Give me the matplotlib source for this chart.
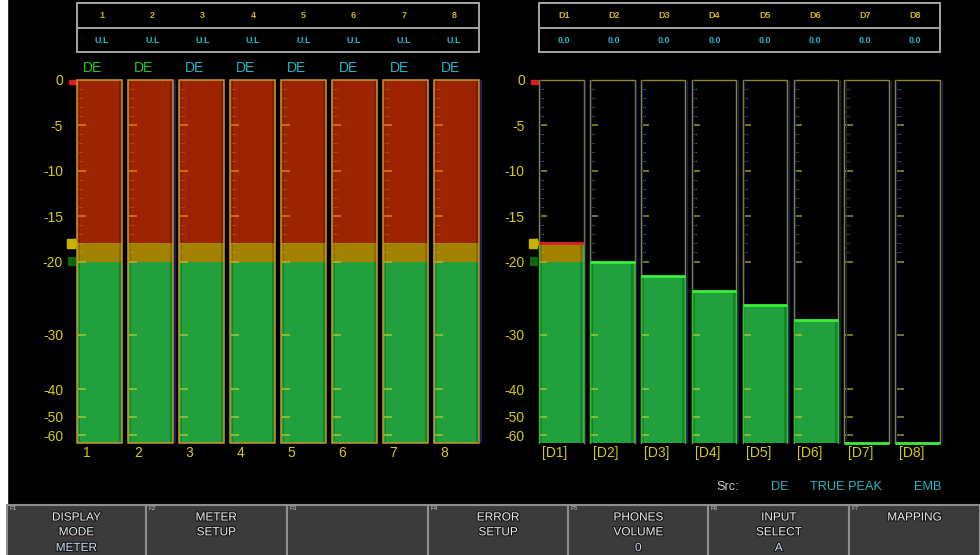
import numpy as np
import matplotlib
matplotlib.use('Agg')
import matplotlib.pyplot as plt
from matplotlib.patches import Rectangle, Polygon
from matplotlib import transforms
import matplotlib.patheffects as pe

plt.rcParams['font.family'] = ['Liberation Sans', 'DejaVu Sans']

# ---------------- data ----------------
ch_labels = ['1', '2', '3', '4', '5', '6', '7', '8']
ch_units = ['U.L', 'U.L', 'U.L', 'U.L', 'U.L', 'U.L', 'U.L', 'U.L']
ch_src = ['DE', 'DE', 'DE', 'DE', 'DE', 'DE', 'DE', 'DE']
ch_src_ok = [True, True, False, False, False, False, False, False]
ch_levels = [0, 0, 0, 0, 0, 0, 0, 0]

d_labels = ['D1', 'D2', 'D3', 'D4', 'D5', 'D6', 'D7', 'D8']
d_values = ['0.0', '0.0', '0.0', '0.0', '0.0', '0.0', '0.0', '0.0']
d_levels = [-18, -20, -22, -24, -26, -28, -70, -70]

scale_ticks = [0, -5, -10, -15, -20, -30, -40, -50, -60]
scale_labels = ['0', '-5', '-10', '-15', '-20', '-30', '-40', '-50', '-60']
minor_ticks = [-1, -2, -3, -4, -6, -7, -8, -9, -11, -12, -13, -14, -16, -17, -18, -19]
over_level = -18      # start of red zone
ref_level = -20       # start of yellow zone
floor_db = -70

src_words = ['Src:', 'DE', 'TRUE PEAK', 'EMB']
fkeys = ['F1', 'F2', 'F3', 'F4', 'F5', 'F6', 'F7']
fkey_text = [['DISPLAY', 'MODE'], ['METER', 'SETUP'], [], ['ERROR', 'SETUP'],
             ['PHONES', 'VOLUME'], ['INPUT', 'SELECT'], ['MAPPING']]
fkey_value = ['METER', '', '', '', '0', 'A', '']

# ---------------- style ----------------
W, H = 980, 555
YEL = '#d4cc12'
CYAN = '#22b8c4'
GREEN_TXT = '#22c822'
RED = '#9c2400'
RED_D = '#7c1c00'
AMB = '#a28200'
AMB_D = '#8a6c00'
GRN = '#22a03e'
GRN_D = '#12862a'
LIME = '#38f038'

# non-linear meter scale (dB -> pixel height)
_db = np.array([-70, -60, -50, -40, -30, -20, 0], dtype=float)
_px = np.array([0, 8, 26.6, 54, 108.6, 181.8, 363.8])


def fwd(v):
    return np.interp(np.asarray(v, dtype=float), _db, _px)


def inv(p):
    return np.interp(np.asarray(p, dtype=float), _px, _db)


fig = plt.figure(figsize=(W / 100, H / 100), dpi=100, facecolor='black')
bg = fig.add_axes([0, 0, 1, 1])
bg.set_xlim(0, W)
bg.set_ylim(H, 0)
bg.set_facecolor('black')
bg.axis('off')

# white strip at left
bg.add_patch(Rectangle((0, 0), 7, H, color='white', zorder=1))


def px_axes(x0, y0, x1, y1):
    return fig.add_axes([x0 / W, 1 - y1 / H, (x1 - x0) / W, (y1 - y0) / H])


HW = 0.44


def setup_meter(ax):
    ax.set_facecolor('none')
    ax.set_yscale('function', functions=(fwd, inv))
    ax.set_ylim(floor_db, 0)
    ax.set_xlim(-HW, 7 + HW)
    for s in ax.spines.values():
        s.set_visible(False)
    ax.set_xticks([])
    ax.set_yticks(scale_ticks, scale_labels)
    ax.yaxis.set_minor_locator(matplotlib.ticker.NullLocator())
    ax.tick_params(axis='y', length=0, pad=10, labelcolor=YEL, labelsize=10)
    # reference markers at left
    ax.add_patch(Rectangle((-HW - 0.16, -0.45), 0.15, 0.45, color='#d42020', clip_on=False))
    ax.add_patch(Rectangle((-HW - 0.19, over_level - 0.5), 0.15, 1.0, color='#c8b400', clip_on=False))
    ax.add_patch(Polygon([(-HW - 0.04, over_level - 0.5), (-HW, over_level),
                          (-HW - 0.04, over_level + 0.5)], closed=True, color='#c8b400', clip_on=False))
    ax.add_patch(Rectangle((-HW - 0.18, ref_level - 0.5), 0.14, 1.0, color='#0e6410', clip_on=False))


def seg(ax, i, lo, hi, fill, dark):
    if hi <= lo:
        return
    ax.bar(i, hi - lo, bottom=lo, width=2 * HW, color=fill, linewidth=0, zorder=2)
    ax.bar(i + HW - 0.035, hi - lo, bottom=lo, width=0.06, color=dark, linewidth=0, zorder=2)
    ax.bar(i - HW + 0.045, hi - lo, bottom=lo, width=0.025, color=dark, linewidth=0, zorder=2)


def draw_level(ax, i, L):
    seg(ax, i, floor_db, min(L, ref_level), GRN, GRN_D)
    seg(ax, i, ref_level, min(L, over_level), AMB, AMB_D)
    seg(ax, i, over_level, L, RED, RED_D)


def draw_ticks(ax, i, L, empty_major, empty_minor):
    x0 = i - HW
    for t in scale_ticks[1:]:
        if t <= L:
            c = '#d07a18' if t > over_level else ('#b8b020' if t == ref_level else '#9cc032')
        else:
            c = empty_major
        ax.hlines(t, x0 + 0.01, x0 + 0.17, colors=c, lw=1.2, zorder=3)
    for t in minor_ticks:
        c = ('#c86a40' if t > over_level else '#c0a040') if t <= L else empty_minor
        ax.hlines(t, x0 + 0.03, x0 + 0.1, colors=c, lw=0.8, linestyles=(0, (1, 1)), zorder=3)


# ---------------- left meters ----------------
axL = px_axes(77, 79.5, 479.3, 443.3)
setup_meter(axL)
bt = transforms.blended_transform_factory(axL.transData, axL.transAxes)
for i, L in enumerate(ch_levels):
    draw_level(axL, i, L)
    draw_ticks(axL, i, L, '#8a8a22', '#707070')
    axL.add_patch(Rectangle((i - HW, floor_db), 2 * HW, 0 - floor_db, fill=False,
                            edgecolor='#c89a28', lw=1.1, zorder=4, clip_on=False))
    axL.text(i - HW + 0.12, 1.032, ch_src[i], transform=bt, ha='left', va='center',
             color=GREEN_TXT if ch_src_ok[i] else CYAN, fontsize=10)
    axL.text(i - HW + 0.12, -0.027, ch_labels[i], transform=bt, ha='left', va='center',
             color=YEL, fontsize=10)
for i in (1, 7):
    axL.vlines(i + HW + 0.04, floor_db, 0, colors='#1c1c66', lw=1.5, zorder=4, clip_on=False)

# ---------------- right meters ----------------
axR = px_axes(538.7, 79.5, 940.3, 443.3)
setup_meter(axR)
bt = transforms.blended_transform_factory(axR.transData, axR.transAxes)
for i, L in enumerate(d_levels):
    draw_level(axR, i, L)
    draw_ticks(axR, i, L, '#8a8a22', '#707070')
    x0, x1 = i - HW, i + HW
    axR.plot([x0, x0, x1, x1], [floor_db, 0, 0, floor_db], color='#8a8a24', lw=1.0,
             zorder=4, clip_on=False)
    axR.vlines(x1 + 0.03, floor_db, 0, colors='#1c1c66', lw=1.0, zorder=4, clip_on=False)
    axR.vlines(x0 + 0.02, max(L, floor_db), 0, colors='#1c1c66', lw=0.8, zorder=4, clip_on=False)
    if L > floor_db:
        axR.vlines([x0 + 0.01, x1 - 0.01], floor_db, L, colors='#30c030', lw=1.0, zorder=4)
    axR.hlines(L, x0, x1, colors='#e02020' if L >= over_level else LIME, lw=2.0,
               zorder=5, clip_on=False)
    axR.text(i - HW + 0.06, -0.027, '[' + d_labels[i] + ']', transform=bt, ha='left',
             va='center', color=YEL, fontsize=10)

# ---------------- top tables ----------------
def table(x0, x1, heads, vals):
    bg.add_patch(Rectangle((x0, 3.3), x1 - x0, 48.4, fill=False, edgecolor='#a4a4a4', lw=1.4))
    bg.plot([x0, x1], [28, 28], color='#a4a4a4', lw=1.4)
    cw = (x1 - x0) / len(heads)
    for k, (h, v) in enumerate(zip(heads, vals)):
        cx = x0 + (k + 0.5) * cw
        bg.text(cx, 15.5, h, ha='center', va='center', color='#c8b818', fontsize=6.5,
                fontweight='bold')
        bg.text(cx, 40.5, v, ha='center', va='center', color=CYAN, fontsize=6.5,
                fontweight='bold')


table(77, 479.3, ch_labels, ch_units)
table(538.7, 940.3, d_labels, d_values)

# ---------------- source info ----------------
src_x = [716, 771, 810, 914]
src_c = ['#cccccc', CYAN, CYAN, CYAN]
for w, x, c in zip(src_words, src_x, src_c):
    bg.text(x, 487, w, ha='left', va='center', color=c, fontsize=9.2)

# ---------------- function keys ----------------
edges = [7, 145.7, 286.7, 427.7, 568.3, 708.3, 849.3, 980]
for k, name in enumerate(fkeys):
    xa, xb = edges[k], edges[k + 1]
    bg.add_patch(Rectangle((xa, 505), xb - xa, 52, facecolor='#3b3b3b',
                           edgecolor='#8e8e8e', lw=1.5))
    bg.text(xa + 2.5, 509, name, ha='left', va='center', color='#c8c8c8', fontsize=4.5)
    cx = (xa + xb) / 2
    for j, line in enumerate(fkey_text[k]):
        bg.text(cx, 517.5 + 14.8 * j, line, ha='center', va='center', color='#ececec',
                fontsize=8.5, path_effects=[pe.withStroke(linewidth=1.6, foreground='#151515')])
    if fkey_value[k]:
        bg.text(cx, 548, fkey_value[k], ha='center', va='center', color='#cfdcf4',
                fontsize=8.5, path_effects=[pe.withStroke(linewidth=1.6, foreground='#151515')])

fig.savefig('out.png', dpi=100, facecolor='black')
